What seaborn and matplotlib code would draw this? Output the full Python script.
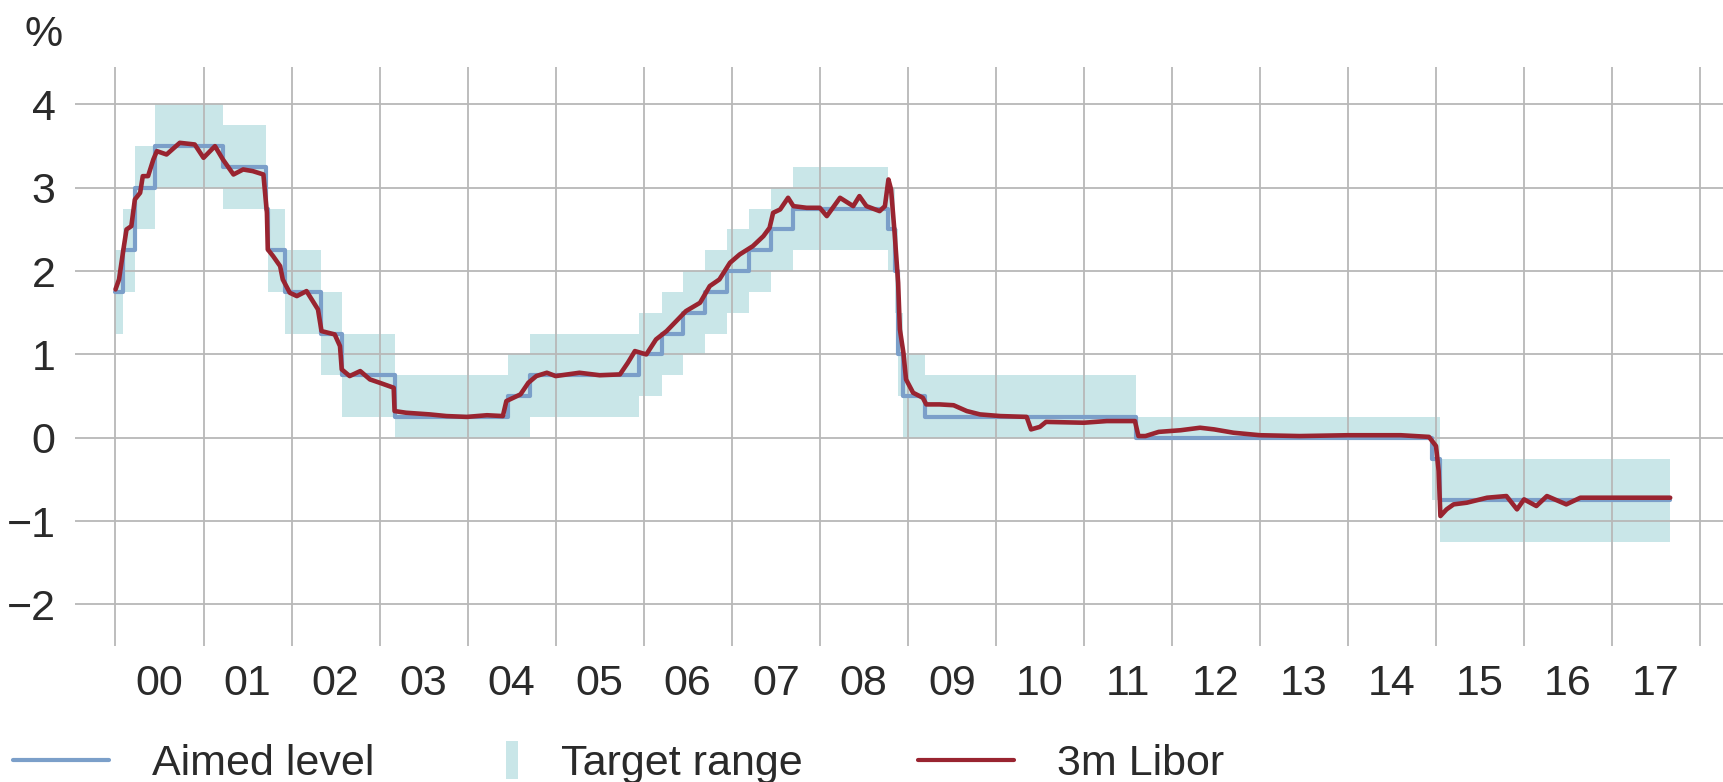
import numpy as np
import pandas as pd
import matplotlib
matplotlib.use("Agg")
import matplotlib.pyplot as plt
import seaborn as sns
from matplotlib.lines import Line2D
from matplotlib.patches import Patch, Rectangle
from matplotlib.legend_handler import HandlerPatch

# ---------------- data ----------------
# SNB target range for 3m CHF Libor (start of each regime, in decimal years)
range_start = [2000.00, 2000.09, 2000.22, 2000.45, 2001.22, 2001.71, 2001.73, 2001.93,
               2002.33, 2002.57, 2003.18, 2004.46, 2004.71, 2005.95, 2006.21, 2006.45,
               2006.70, 2006.95, 2007.20, 2007.45, 2007.70, 2008.77, 2008.85, 2008.89,
               2008.94, 2009.19, 2011.59, 2014.96, 2015.04]
range_low = [1.25, 1.75, 2.50, 3.00, 2.75, 2.25, 1.75, 1.25,
             0.75, 0.25, 0.00, 0.00, 0.25, 0.50, 0.75, 1.00,
             1.25, 1.50, 1.75, 2.00, 2.25, 2.00, 1.50, 0.50,
             0.00, 0.00, 0.00, -0.75, -1.25]
range_high = [2.25, 2.75, 3.50, 4.00, 3.75, 3.25, 2.75, 2.25,
              1.75, 1.25, 0.75, 1.00, 1.25, 1.50, 1.75, 2.00,
              2.25, 2.50, 2.75, 3.00, 3.25, 3.00, 2.50, 1.50,
              1.00, 0.75, 0.25, 0.25, -0.25]
aimed_level = [1.75, 2.25, 3.00, 3.50, 3.25, 2.75, 2.25, 1.75,
               1.25, 0.75, 0.25, 0.50, 0.75, 1.00, 1.25, 1.50,
               1.75, 2.00, 2.25, 2.50, 2.75, 2.50, 2.00, 1.00,
               0.50, 0.25, 0.00, -0.25, -0.75]
range_end = 2017.66

# 3m Libor
libor_year = [2000.00, 2000.04, 2000.09, 2000.125, 2000.18, 2000.22, 2000.28, 2000.31, 2000.37,
              2000.43, 2000.47, 2000.58, 2000.73, 2000.90, 2001.00, 2001.13, 2001.22, 2001.34,
              2001.45, 2001.56, 2001.68, 2001.72, 2001.73, 2001.79, 2001.87, 2001.90, 2001.98,
              2002.06, 2002.17, 2002.30, 2002.34, 2002.49, 2002.55, 2002.57, 2002.66, 2002.78,
              2002.89, 2003.00, 2003.16, 2003.17, 2003.30, 2003.57, 2003.76, 2003.99, 2004.22,
              2004.40, 2004.44, 2004.60, 2004.69, 2004.78, 2004.90, 2005.00, 2005.27, 2005.50,
              2005.73, 2005.82, 2005.90, 2006.03, 2006.14, 2006.26, 2006.37, 2006.48, 2006.64,
              2006.75, 2006.86, 2006.98, 2007.09, 2007.24, 2007.36, 2007.43, 2007.47, 2007.55,
              2007.64, 2007.70, 2007.85, 2008.00, 2008.08, 2008.23, 2008.38, 2008.45, 2008.53,
              2008.68, 2008.74, 2008.78, 2008.81, 2008.85, 2008.89, 2008.91, 2008.95, 2008.98,
              2009.06, 2009.17, 2009.21, 2009.36, 2009.52, 2009.67, 2009.82, 2010.05, 2010.35,
              2010.40, 2010.50, 2010.57, 2011.00, 2011.26, 2011.58, 2011.62, 2011.70, 2011.85,
              2012.10, 2012.32, 2012.48, 2012.70, 2013.00, 2013.45, 2014.00, 2014.60, 2014.92,
              2015.00, 2015.03, 2015.05, 2015.12, 2015.20, 2015.35, 2015.58, 2015.80, 2015.92,
              2016.00, 2016.14, 2016.26, 2016.48, 2016.64, 2017.02, 2017.66]
libor_value = [1.78, 1.90, 2.26, 2.50, 2.54, 2.86, 2.94, 3.14, 3.14,
               3.34, 3.44, 3.40, 3.54, 3.52, 3.36, 3.50, 3.34, 3.16,
               3.22, 3.20, 3.16, 2.70, 2.26, 2.18, 2.06, 1.90, 1.74,
               1.70, 1.76, 1.54, 1.28, 1.24, 1.10, 0.82, 0.74, 0.80,
               0.70, 0.66, 0.60, 0.32, 0.30, 0.28, 0.26, 0.25, 0.27,
               0.26, 0.44, 0.52, 0.66, 0.74, 0.78, 0.74, 0.78, 0.75,
               0.76, 0.90, 1.04, 1.00, 1.18, 1.28, 1.40, 1.52, 1.62,
               1.82, 1.90, 2.10, 2.20, 2.30, 2.42, 2.52, 2.70, 2.74,
               2.88, 2.78, 2.76, 2.76, 2.66, 2.88, 2.78, 2.90, 2.78,
               2.72, 2.78, 3.10, 2.98, 2.46, 1.86, 1.30, 1.02, 0.70,
               0.54, 0.48, 0.40, 0.40, 0.39, 0.32, 0.28, 0.26, 0.25,
               0.10, 0.13, 0.19, 0.18, 0.20, 0.20, 0.02, 0.02, 0.07,
               0.09, 0.12, 0.10, 0.06, 0.03, 0.02, 0.03, 0.03, 0.01,
               -0.10, -0.40, -0.94, -0.86, -0.80, -0.78, -0.72, -0.70, -0.86,
               -0.74, -0.82, -0.70, -0.80, -0.72, -0.72, -0.72]

year_labels = ["00", "01", "02", "03", "04", "05", "06", "07", "08", "09",
               "10", "11", "12", "13", "14", "15", "16", "17"]
y_ticks = [-2, -1, 0, 1, 2, 3, 4]

# ---------------- style ----------------
C_RANGE = "#c9e6e8"
C_AIMED = "#7b9fc9"
C_LIBOR = "#992430"
C_GRID = "#b8b8b8"
C_TEXT = "#2a2a2a"
FS = 31

sns.set_theme(style="white")
plt.rcParams["font.family"] = ["Liberation Sans", "DejaVu Sans"]

fig = plt.figure(figsize=(17.23, 7.82), dpi=100)
ax = fig.add_axes([75 / 1723, 1 - 646 / 782, 1 - 75 / 1723, (646 - 67) / 782])

step_x = range_start + [range_end]
df_range = pd.DataFrame({
    "year": step_x,
    "low": range_low + [range_low[-1]],
    "high": range_high + [range_high[-1]],
    "aimed": aimed_level + [aimed_level[-1]],
})
df_libor = pd.DataFrame({"year": libor_year, "libor": libor_value})

ax.fill_between(df_range["year"], df_range["low"], df_range["high"], step="post",
                color=C_RANGE, linewidth=0, zorder=0.3)
sns.lineplot(data=df_range, x="year", y="aimed", ax=ax, color=C_AIMED, linewidth=3.0,
             drawstyle="steps-post", zorder=2, legend=False)
sns.lineplot(data=df_libor, x="year", y="libor", ax=ax, color=C_LIBOR, linewidth=3.3,
             zorder=3, legend=False, sort=False)

ax.set_xlim(1999.54, 2018.26)
ax.set_ylim(-2.5, 4.45)
ax.set_xticks(np.arange(2000, 2019))
ax.set_xticklabels([])
ax.set_xticks(np.arange(2000, 2018) + 0.5, minor=True)
ax.set_xticklabels(year_labels, minor=True)
ax.set_yticks(y_ticks)
ax.set_yticklabels([str(v).replace("-", "\u2212") for v in y_ticks])
ax.tick_params(axis="both", which="both", length=0, labelsize=FS, colors=C_TEXT)
ax.tick_params(axis="x", which="minor", pad=13)
ax.tick_params(axis="y", pad=14)

ax.set_axisbelow(True)
ax.grid(True, which="major", axis="both", color=C_GRID, linewidth=1.3)
for s in ax.spines.values():
    s.set_visible(False)
ax.set_xlabel("")
ax.set_ylabel("")

fig.text(24 / 1723, 1 - 55 / 782, "%", fontsize=FS, color=C_TEXT, ha="left", va="bottom")

# legend (three single-entry legends placed along the bottom)
def square_handle(legend, orig_handle, xdescent, ydescent, width, height, fontsize):
    w = 8.5
    return Rectangle((-xdescent + width - w, -ydescent - 3), w, height + 6)

leg_kw = dict(frameon=False, loc="center left", borderaxespad=0, borderpad=0,
              handlelength=2.22, handletextpad=1.0, prop={"size": FS})
y_leg = 1 - 764 / 782
h1 = Line2D([], [], color=C_AIMED, linewidth=3.0)
h2 = Patch(facecolor=C_RANGE, edgecolor="none")
h3 = Line2D([], [], color=C_LIBOR, linewidth=3.0)
legs = [
    fig.legend([h1], ["Aimed level"], bbox_to_anchor=(13 / 1723, y_leg), **leg_kw),
    fig.legend([h2], ["Target range"], bbox_to_anchor=(422 / 1723, y_leg),
               handler_map={Patch: HandlerPatch(patch_func=square_handle)}, **leg_kw),
    fig.legend([h3], ["3m Libor"], bbox_to_anchor=(918 / 1723, y_leg), **leg_kw),
]
for lg in legs:
    for t in lg.get_texts():
        t.set_color(C_TEXT)

fig.savefig("out.png", dpi=100)
